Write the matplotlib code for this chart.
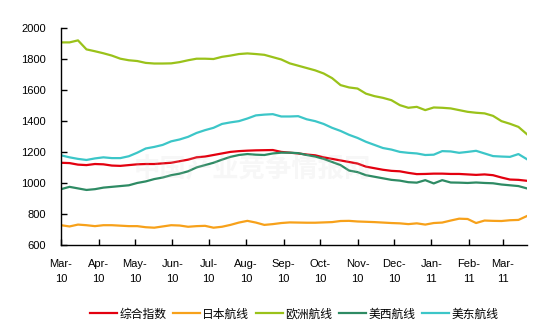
"""
Weekly container freight index, Mar 2010 - Mar 2011: composite and four routes.
"""

import matplotlib.dates as mdates
import matplotlib.pyplot as plt
import numpy as np
import pandas as pd

plt.rcParams["font.family"] = ["Liberation Sans", "Noto Sans CJK SC", "DejaVu Sans"]

OUTPUT = "out.png"

dates = pd.date_range("2010-03-01", periods=56, freq="7D")

composite = [1130, 1128, 1118, 1115, 1122, 1120, 1112, 1110, 1115, 1120,
             1122, 1122, 1126, 1130, 1140, 1150, 1165, 1170, 1180, 1190,
             1200, 1205, 1208, 1210, 1211, 1212, 1200, 1195, 1190, 1183,
             1178, 1165, 1155, 1145, 1135, 1125, 1105, 1095, 1085, 1078,
             1075, 1065, 1057, 1058, 1060, 1060, 1058, 1058, 1055, 1052,
             1055, 1050, 1035, 1022, 1020, 1014]

japan = [728, 720, 732, 728, 722, 728, 728, 725, 722, 722,
         715, 712, 720, 728, 726, 718, 722, 724, 712, 718,
         730, 745, 756, 745, 730, 735, 742, 746, 745, 744,
         744, 746, 748, 755, 756, 752, 750, 748, 745, 742,
         740, 735, 740, 732, 742, 745, 758, 770, 768, 742,
         758, 756, 755, 760, 762, 787]

europe = [1905, 1905, 1918, 1860, 1848, 1835, 1820, 1800, 1790, 1785,
          1773, 1769, 1769, 1770, 1778, 1790, 1800, 1800, 1798, 1812,
          1820, 1830, 1834, 1830, 1825, 1810, 1795, 1770, 1755, 1740,
          1725, 1705, 1675, 1630, 1615, 1608, 1575, 1559, 1548, 1533,
          1501, 1484, 1490, 1469, 1486, 1484, 1480, 1469, 1458, 1452,
          1448, 1432, 1398, 1381, 1361, 1314]

us_west = [960, 975, 965, 955, 960, 970, 975, 980, 985, 1000,
           1010, 1025, 1035, 1050, 1060, 1075, 1100, 1115, 1130, 1150,
           1168, 1180, 1186, 1182, 1180, 1190, 1195, 1195, 1192, 1180,
           1170, 1155, 1135, 1115, 1080, 1070, 1050, 1040, 1030, 1020,
           1015, 1005, 1002, 1018, 997, 1018, 1003, 1002, 1000, 1003,
           1000, 998, 990, 985, 980, 965]

us_east = [1178, 1165, 1155, 1148, 1158, 1165, 1160, 1160, 1172, 1195,
           1222, 1232, 1245, 1268, 1280, 1297, 1322, 1340, 1355, 1380,
           1390, 1398, 1415, 1435, 1440, 1443, 1428, 1428, 1430, 1410,
           1398, 1380, 1355, 1335, 1310, 1290, 1265, 1245, 1225, 1215,
           1200, 1194, 1190, 1180, 1182, 1205, 1203, 1194, 1200, 1207,
           1190, 1173, 1170, 1168, 1186, 1153]

names = ["综合指数", "日本航线", "欧洲航线", "美西航线", "美东航线"]
colors = ["#e3000f", "#f7a11a", "#9ac21a", "#2e8b64", "#3cc6c8"]
series = [composite, japan, europe, us_west, us_east]

fig = plt.figure(figsize=(5.5, 3.33), dpi=100)
ax = fig.add_axes([0.111, 0.264, 0.847, 0.653])

for name, color, values in zip(names, colors, series):
    ax.plot(dates, np.array(values), color=color, linewidth=1.6,
            label=name, solid_joinstyle="round")

ax.set_xlim(pd.Timestamp("2010-03-01"), dates[-1])
ax.set_ylim(600, 2000)
ax.set_yticks(np.arange(600, 2001, 200))

ax.xaxis.set_major_locator(mdates.MonthLocator())
ax.xaxis.set_major_formatter(mdates.DateFormatter("%b-\n%y"))

for side in ("top", "right"):
    ax.spines[side].set_visible(False)
for side in ("left", "bottom"):
    ax.spines[side].set_linewidth(1.0)
    ax.spines[side].set_color("black")

ax.tick_params(axis="both", direction="in", length=4, width=1,
               labelsize=8, colors="black")
ax.tick_params(axis="y", pad=11)
ax.tick_params(axis="x", pad=10)
for lbl in ax.get_xticklabels():
    lbl.set_linespacing(1.6)

# faint site watermark over the plot
ax.text(0.41, 0.35, "中国产业竞争情报网", transform=ax.transAxes,
        ha="center", va="center", fontsize=19, fontweight="bold",
        family=["Noto Sans CJK SC"], color="#c8c8c8", alpha=0.14,
        zorder=5)

fig.legend(loc="center", bbox_to_anchor=(0.535, 0.057), ncol=5,
           frameon=False, handlelength=2.3,
           handletextpad=0.15, columnspacing=0.6,
           prop={"family": ["Noto Sans CJK SC"], "size": 8.5})

fig.savefig(OUTPUT, dpi=100, facecolor="white")
